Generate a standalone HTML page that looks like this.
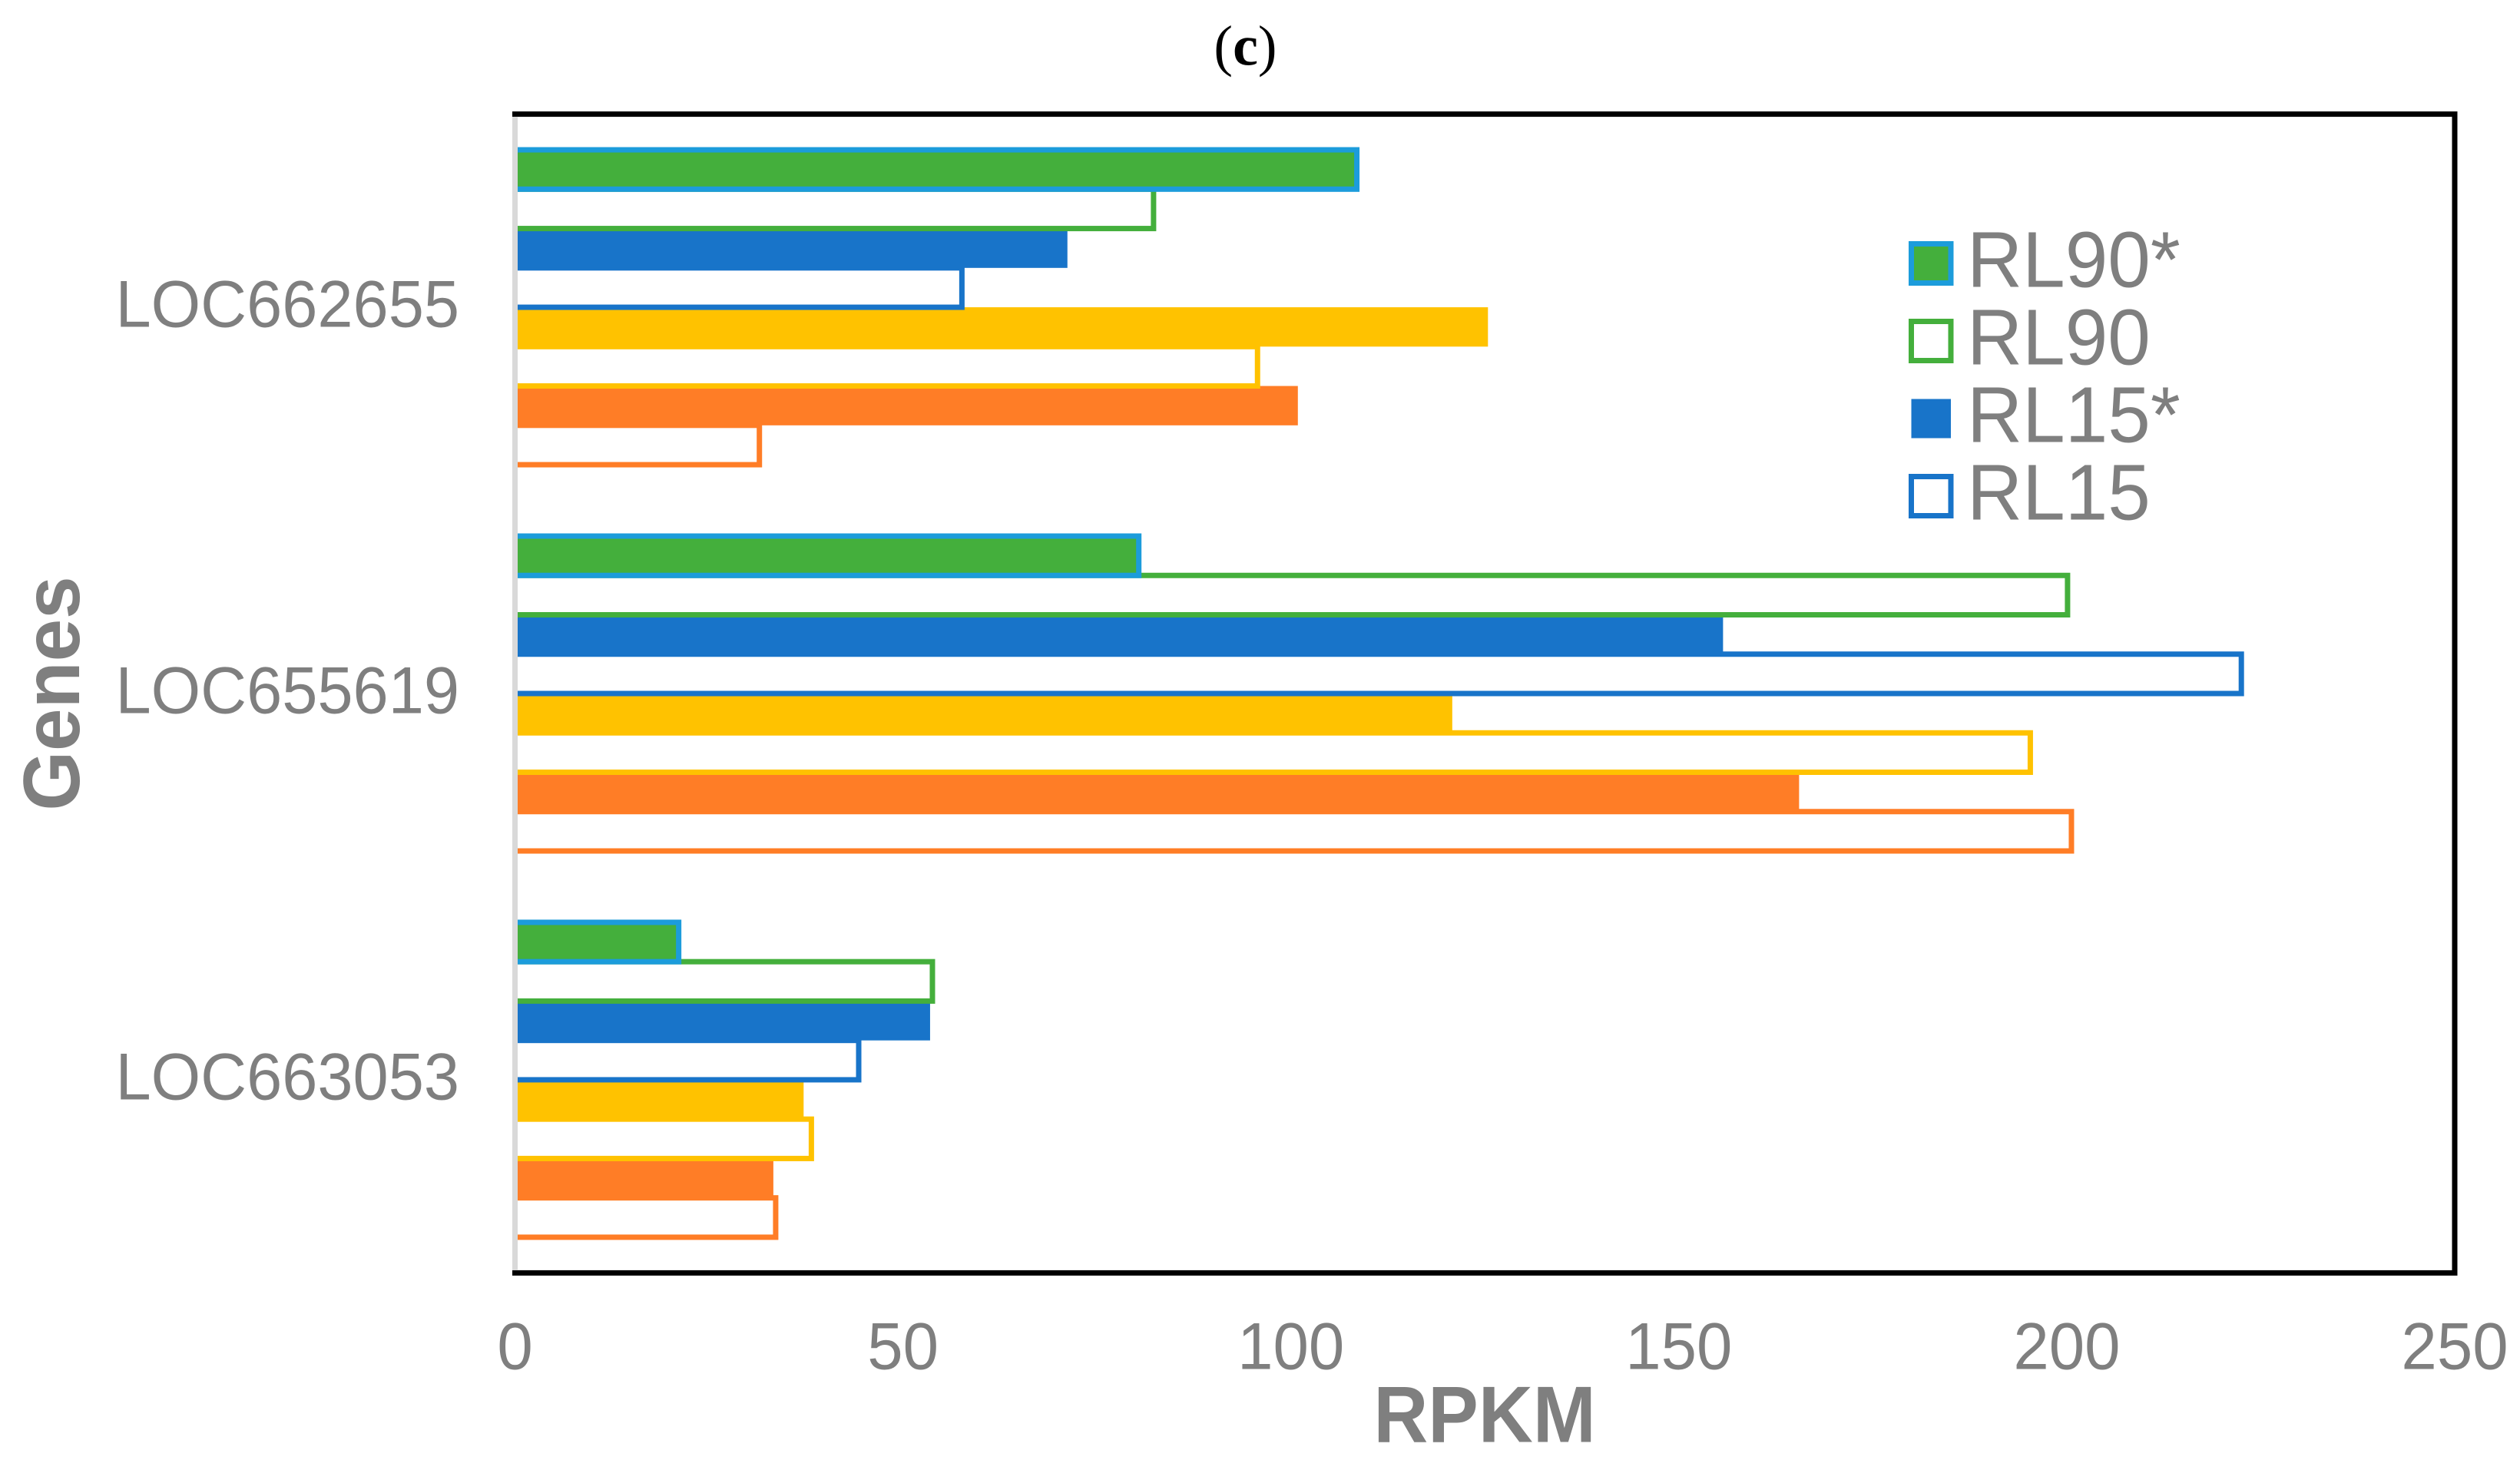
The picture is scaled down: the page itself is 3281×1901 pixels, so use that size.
<!DOCTYPE html>
<html lang="en">
<head>
<meta charset="utf-8">
<title>RPKM by gene (c)</title>
<style>
html,body{margin:0;padding:0;background:#fff;}
svg{display:block;}
text{font-family:"Liberation Sans",Arial,sans-serif;fill:#7f7f7f;}
</style>
</head>
<body>
<svg id="chart" xmlns="http://www.w3.org/2000/svg" width="3281" height="1901" viewBox="0 0 3281 1901">
  <rect x="0" y="0" width="3281" height="1901" fill="#ffffff"/>
  <text x="1621.5" y="84.5" text-anchor="middle" font-size="74" style="font-family:'Liberation Serif',serif;fill:#000">(<tspan font-weight="bold">c</tspan>)</text>
  <rect x="670.5" y="148.6" width="2525.5" height="1508.8" fill="none" stroke="#000000" stroke-width="7"/>
  <g id="bars"></g>
  <line x1="670.5" y1="152" x2="670.5" y2="1654" stroke="#d9d9d9" stroke-width="7"/>
  <g id="yticks"></g>
  <g id="xticks"></g>
  <text transform="translate(1933 1877.7) scale(0.945 1)" text-anchor="middle" font-size="104" font-weight="bold">RPKM</text>
  <text transform="translate(103 903) rotate(-90) scale(0.96 1)" text-anchor="middle" font-size="104" font-weight="bold">Genes</text>
  <g id="legend"></g>
</svg>
<script>
// Categories, top to bottom
const genes = ["LOC662655", "LOC655619", "LOC663053"];
// Series values, one per gene (RPKM)
const rl90Star = [108.5, 80.4, 21.1];
const rl90 = [82.3, 200.1, 53.8];
const rl15Star = [71.2, 155.7, 53.5];
const rl15 = [57.6, 222.5, 44.3];
const yellowStar = [125.4, 120.8, 37.2];
const yellowOpen = [95.7, 195.3, 38.2];
const orangeStar = [100.9, 165.5, 33.3];
const orangeOpen = [31.5, 200.6, 33.6];
// Axis ticks
const xTicks = [0, 50, 100, 150, 200, 250];
// Legend labels
const legendLabels = ["RL90*", "RL90", "RL15*", "RL15"];

const NS = "http://www.w3.org/2000/svg";
const plot = {left: 670.5, right: 3196, top: 148.6, bottom: 1657.4, xMax: 250};
const groupHeight = (plot.bottom - plot.top) / genes.length;
const barHeight = 51.25;
const barCount = 8;

function xScale(v) {
  return plot.left + (v / plot.xMax) * (plot.right - plot.left);
}
function barTop(groupIndex, barIndex) {
  const center = plot.top + groupHeight * (groupIndex + 0.5);
  return center - (barCount / 2) * barHeight + barIndex * barHeight;
}

const seriesStyles = [
  {values: rl90Star, key: "rl90-star", fill: "#44af3c", stroke: "#1c9cdb"},
  {values: rl90, key: "rl90", fill: "#ffffff", stroke: "#44af3c"},
  {values: rl15Star, key: "rl15-star", fill: "#1874c9", stroke: "none"},
  {values: rl15, key: "rl15", fill: "#ffffff", stroke: "#1874c9"},
  {values: yellowStar, key: "yellow-star", fill: "#ffc200", stroke: "none"},
  {values: yellowOpen, key: "yellow-open", fill: "#ffffff", stroke: "#ffc200"},
  {values: orangeStar, key: "orange-star", fill: "#ff7d26", stroke: "none"},
  {values: orangeOpen, key: "orange-open", fill: "#ffffff", stroke: "#ff7d26"}
];

const barsGroup = document.getElementById("bars");
genes.forEach(function (gene, g) {
  // Lowest bar first, so upper bars overlap the ones beneath them
  for (let s = seriesStyles.length - 1; s >= 0; s--) {
    const st = seriesStyles[s];
    const r = document.createElementNS(NS, "rect");
    r.setAttribute("x", xScale(0));
    r.setAttribute("y", barTop(g, s));
    r.setAttribute("width", xScale(st.values[g]) - xScale(0));
    r.setAttribute("height", barHeight);
    r.setAttribute("fill", st.fill);
    r.setAttribute("stroke", st.stroke);
    if (st.stroke !== "none") r.setAttribute("stroke-width", "7");
    
    
    barsGroup.appendChild(r);
  }
});

const yticksGroup = document.getElementById("yticks");
genes.forEach(function (gene, g) {
  const t = document.createElementNS(NS, "text");
  const baseline = plot.top + groupHeight * (g + 0.5) + 25.6;
  t.setAttribute("transform", "translate(598 " + baseline + ") scale(0.965 1)");
  t.setAttribute("text-anchor", "end");
  t.setAttribute("font-size", "86");
  t.textContent = gene;
  
  
  yticksGroup.appendChild(t);
});

const xticksGroup = document.getElementById("xticks");
xTicks.forEach(function (v) {
  const t = document.createElementNS(NS, "text");
  t.setAttribute("transform", "translate(" + xScale(v) + " 1782.5) scale(0.97 1)");
  t.setAttribute("text-anchor", "middle");
  t.setAttribute("font-size", "86");
  t.textContent = String(v);
  
  
  xticksGroup.appendChild(t);
});

const legendGroup = document.getElementById("legend");
const legendStyles = [seriesStyles[0], seriesStyles[1], seriesStyles[2], seriesStyles[3]];
legendLabels.forEach(function (label, i) {
  const st = legendStyles[i];
  const rowTop = 317.5 + i * 101;
  const swatch = document.createElementNS(NS, "rect");
  swatch.setAttribute("x", "2488.5");
  swatch.setAttribute("y", rowTop);
  swatch.setAttribute("width", "51.5");
  swatch.setAttribute("height", "51");
  swatch.setAttribute("fill", st.fill);
  swatch.setAttribute("stroke", st.stroke);
  if (st.stroke !== "none") swatch.setAttribute("stroke-width", "7");
  
  
  legendGroup.appendChild(swatch);

  const t = document.createElementNS(NS, "text");
  t.setAttribute("transform", "translate(2561 " + (373.3 + i * 101) + ") scale(0.97 1)");
  t.setAttribute("font-size", "103");
  t.textContent = label;
  
  
  legendGroup.appendChild(t);
});
</script>
</body>
</html>
